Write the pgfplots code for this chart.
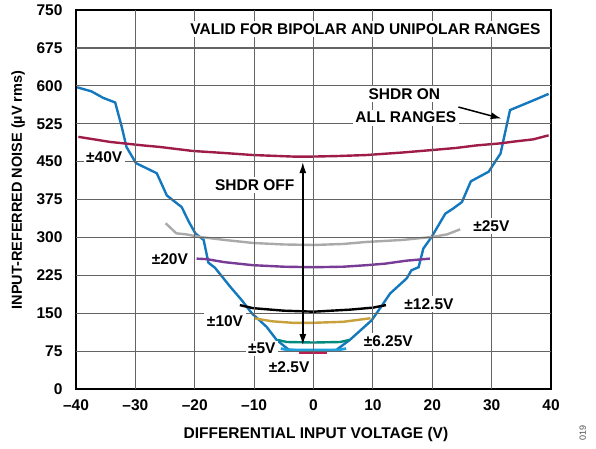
\documentclass[border=0pt]{standalone}
\usepackage{pgfplots}
\pgfplotsset{compat=1.18}
\usepackage{fontspec}
\setmainfont{Liberation Sans}
\usetikzlibrary{arrows.meta}
\definecolor{cblue}{RGB}{20,120,190}
\definecolor{cmaroon}{RGB}{160,28,72}
\definecolor{cgray}{RGB}{170,170,170}
\definecolor{cpurple}{RGB}{120,60,150}
\definecolor{cgold}{RGB}{200,160,60}
\definecolor{cteal}{RGB}{0,138,128}
\definecolor{clblue}{RGB}{30,160,220}
\definecolor{cred}{RGB}{185,30,80}
\definecolor{cgrid}{RGB}{100,100,100}
\tikzset{lbl/.style={fill=white, inner sep=2.5pt}}
\begin{document}
\begin{tikzpicture}[font=\fontsize{15.5}{18}\selectfont\bfseries]
\begin{axis}[
  at={(0pt,0pt)}, anchor=south west,
  scale only axis, width=475pt, height=379pt,
  xmin=-40, xmax=40, ymin=0, ymax=750,
  xtick={-40,-30,...,40},
  xticklabels={\textendash40,\textendash30,\textendash20,\textendash10,0,10,20,30,40},
  ytick={0,75,150,225,300,375,450,525,600,675,750},
  yticklabels={0,75,150,225,300,375,450,525,600,675,750},
  tick style={draw=none},
  xticklabel style={yshift=-7pt},
  yticklabel style={xshift=-10pt},
  axis line style={draw=black, line width=1.8pt},
  xlabel={DIFFERENTIAL INPUT VOLTAGE (V)},
  ylabel={INPUT-REFERRED NOISE (µV rms)},
  every axis x label/.style={at={(axis description cs:0.505,-0.121)}, anchor=center},
  every axis y label/.style={at={(axis description cs:-0.122,0.525)}, anchor=center, rotate=90, font=\fontsize{14.5}{17}\selectfont\bfseries},
  clip=false,
]
% SHDR ON
\addplot[cblue, line width=2.4pt] coordinates {
(-39.8,597) (-37.4,589) (-35.4,576) (-33.4,567) (-32.3,519) (-31.5,479) (-29.9,447)
(-26.4,427) (-24.7,383) (-22.2,360) (-21.0,331) (-19.9,308) (-18.5,295) (-17.7,250)
(-16.6,240) (-14.0,202) (-12.1,176) (-10.4,150) (-7.9,123) (-6.2,97) (-4.2,78)
(-2,76) (0,76) (2,76) (3.8,77) (6.1,97) (9.8,136) (11.4,163) (12.9,189) (15.7,219)
(16.5,235) (17.7,241) (18.5,278) (19.9,301) (22.2,347) (23.5,357) (25.0,370)
(26.5,411) (29.5,430) (31.5,466) (33.1,552) (37.0,571) (39.6,584)};
% +-40V
\addplot[cmaroon, line width=2.4pt] coordinates {
(-39.6,499) (-34.3,489) (-28.7,482) (-25.9,479) (-20.3,471) (-15,467) (-10.2,463)
(-3.5,460) (0,460) (4,461) (8.9,463) (15,468) (20.1,473) (24,477) (27.4,482)
(31.4,486) (34,490) (37.0,494) (39.6,502)};
% +-25V
\addplot[cgray, line width=2.4pt] coordinates {
(-24.9,328) (-23.1,308) (-21.4,306) (-19.2,301) (-15,295) (-10.2,289) (-5,286)
(0,285) (5,287) (8.9,291) (15,295) (20.1,301) (22.5,306) (24.7,316)};
% +-20V
\addplot[cpurple, line width=2.4pt] coordinates {
(-19.7,258) (-18.0,257) (-15,251) (-10.2,245) (-5,242) (0,241) (5,242) (8.9,245)
(12,248) (15.7,254) (19.6,258)};
% +-12.5V
\addplot[black, line width=2.4pt] coordinates {
(-12.4,166) (-10.2,160) (-5,155) (0,153) (6.1,157) (10,161) (12.2,166)};
% +-10V
\addplot[cgold, line width=2.4pt] coordinates {
(-10,140) (-7,134) (-3.5,131) (0,131) (5,133) (9.6,140)};
% +-6.25V
\addplot[cteal, line width=2.4pt] coordinates {
(-6,97) (-4.5,93) (0,92) (4.5,93) (6,97)};
% +-5V
\addplot[clblue, line width=2.7pt] coordinates {
(-5.5,80) (-4.2,77) (0,77) (4,77) (5.5,80)};
% +-2.5V
\addplot[cred, line width=2.4pt] coordinates {
(-2.5,72) (2.3,72)};

% grid lines
\pgfplotsinvokeforeach{-30,-20,-10,0,10,20,30}{
  \draw[draw=cgrid, line width=1.2pt] (axis cs:#1,0) -- (axis cs:#1,750);
}
\pgfplotsinvokeforeach{75,150,225,300,375,450,525,600,675}{
  \draw[draw=cgrid, line width=1.2pt] (axis cs:-40,#1) -- (axis cs:40,#1);
}

\node[lbl] at (axis cs:8.76,711.5) {VALID FOR BIPOLAR AND UNIPOLAR RANGES};
\node[lbl] at (axis cs:15.3,583) {SHDR ON};
\node[lbl] at (axis cs:15.55,537) {ALL RANGES};
\node[lbl] at (axis cs:-35.25,458) {±40V};
\node[lbl] at (axis cs:-9.9,403) {SHDR OFF};
\node[lbl] at (axis cs:29.95,322) {±25V};
\node[lbl] at (axis cs:-24.2,257) {±20V};
\node[lbl] at (axis cs:19.45,168) {±12.5V};
\node[lbl] at (axis cs:-14.9,135) {±10V};
\node[lbl] at (axis cs:12.6,95) {±6.25V};
\node[lbl] at (axis cs:-8.7,80) {±5V};
\node[lbl] at (axis cs:-4.1,42.5) {±2.5V};
\draw[black, line width=1.5pt, {Latex[length=11pt,width=7pt]}-{Latex[length=11pt,width=7pt]}]
  (axis cs:-1.8,449) -- (axis cs:-1.8,87);
\draw[black, line width=1.5pt, -{Latex[length=11pt,width=7pt]}]
  (axis cs:24.4,558) -- (axis cs:31.7,535);
\node[rotate=90, font=\fontsize{9}{10}\selectfont\mdseries, text=black!70] at (axis description cs:1.067,-0.116) {019};
\end{axis}
\path (-76pt,-59pt) rectangle (520pt,389pt);
\end{tikzpicture}
\end{document}
